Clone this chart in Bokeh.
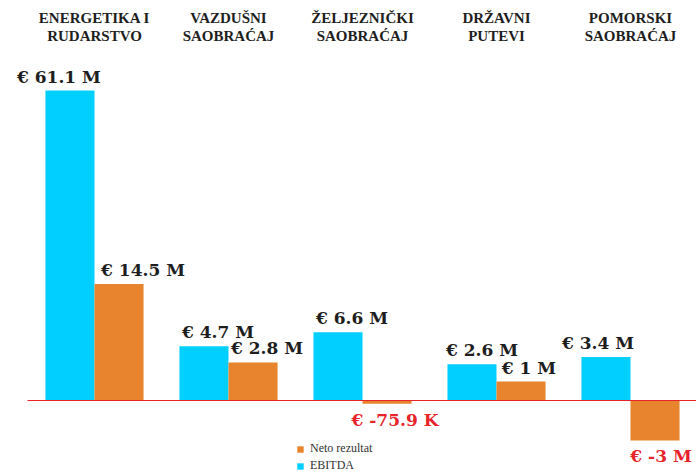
from bokeh.plotting import figure
from bokeh.models import ColumnDataSource, Range1d, LabelSet, Legend, LegendItem
from bokeh.core.properties import value
from bokeh.embed import file_html
from bokeh.resources import INLINE

# ---- data (values in millions of euros) ----
categories = ["ENERGETIKA I\nRUDARSTVO", "VAZDUŠNI\nSAOBRAĆAJ", "ŽELJEZNIČKI\nSAOBRAĆAJ",
              "DRŽAVNI\nPUTEVI", "POMORSKI\nSAOBRAĆAJ"]
ebitda = [61.1, 4.7, 6.6, 2.6, 3.4]
neto = [14.5, 2.8, -0.0759, 1.0, -3.0]

# label nudges in screen px (layout only)
ebitda_dx = [-11, 14, 14, 10, -8]
neto_dx = [24, 14, 8, 8, 6]

POW = 0.68  # compressed (signed power) value scale, as in the infographic


def scale(v):
    return (1 if v >= 0 else -1) * abs(v) ** POW


def fmt(v):
    if abs(v) < 1:
        return f"€ {v * 1000:g} K"
    return f"€ {v:g} M"


n = len(categories)
xs = list(range(n))
BW = 0.366

W, H = 696, 474
px_per_unit = 310 / scale(max(ebitda))
zero_px = 400
y_top = zero_px / px_per_unit
y_bot = -(H - zero_px) / px_per_unit
x0 = -94 / 134
x1 = x0 + W / 134

p = figure(width=W, height=H, output_backend="svg", toolbar_location=None,
           x_range=Range1d(x0, x1), y_range=Range1d(y_bot, y_top),
           min_border=0, outline_line_color=None)
p.axis.visible = False
p.grid.visible = False

CYAN = "#00CFFF"
ORANGE = "#E8832E"
RED = "#E8242A"
DARK = "#1E1E1E"
VFONT = value("DejaVu Serif")

src_e = ColumnDataSource(dict(x=[x - BW / 2 for x in xs], top=[scale(v) for v in ebitda],
                              lab=[fmt(v) for v in ebitda], dx=ebitda_dx))
src_n = ColumnDataSource(dict(x=[x + BW / 2 for x in xs], top=[scale(v) for v in neto],
                              lab=[fmt(v) for v in neto], dx=neto_dx))

r_e = p.vbar(x="x", top="top", bottom=0, width=BW, source=src_e, fill_color=CYAN, line_color=None)
r_n = p.vbar(x="x", top="top", bottom=0, width=BW, source=src_n, fill_color=ORANGE, line_color=None)

# zero line
p.segment(x0=[-0.5], x1=[x1], y0=[0], y1=[0], line_color=RED, line_width=1.2)

# value labels
for src, vals in ((src_e, ebitda), (src_n, neto)):
    pos = [i for i, v in enumerate(vals) if v >= 0]
    neg = [i for i, v in enumerate(vals) if v < 0]
    for idx, base, yoff, col in ((pos, "bottom", -4, DARK), (neg, "top", 6, RED)):
        if not idx:
            continue
        d = {k: [src.data[k][i] for i in idx] for k in ("x", "top", "lab", "dx")}
        s = ColumnDataSource(d)
        p.text(x="x", y="top", text="lab", source=s, x_offset="dx", y_offset=yoff,
               text_align="center", text_baseline=base, text_font=VFONT,
               text_font_style="bold", text_font_size="17px", text_color=col)

# category labels at top (each line centred on its own)
for li in range(2):
    lines = [c.split("\n")[li] for c in categories]
    cat_src = ColumnDataSource(dict(x=xs, y=[H - 17 - 18 * li] * n, t=lines))
    p.add_layout(LabelSet(x="x", y="y", y_units="screen", text="t", source=cat_src,
                          text_align="center", text_baseline="middle",
                          text_font="Liberation Serif", text_font_style="bold",
                          text_font_size="15px", text_color=DARK))

legend = Legend(items=[LegendItem(label="Neto rezultat", renderers=[r_n]),
                       LegendItem(label="EBITDA", renderers=[r_e])],
                location=(296, 1), orientation="vertical",
                glyph_width=8, glyph_height=8, label_height=12, spacing=2,
                padding=0, margin=0, border_line_color=None, background_fill_alpha=0,
                label_text_font="Liberation Serif", label_text_font_size="12px",
                label_text_color="#333333", label_standoff=6)
p.add_layout(legend)

open("out.html", "w").write(file_html(p, INLINE))
